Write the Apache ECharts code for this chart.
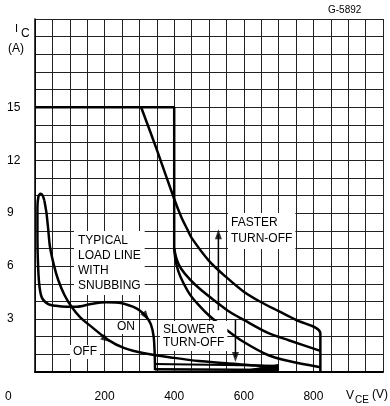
<!DOCTYPE html>
<html><head><meta charset="utf-8">
<script src="https://cdn.jsdelivr.net/npm/echarts@6/dist/echarts.min.js"></script>
<style>html,body{margin:0;padding:0;background:#fff}#c{width:390px;height:406px}</style>
</head><body><div id="c"></div>
<script>
const xTickLabels = [200, 400, 600, 800];
const yTickLabels = [3, 6, 9, 12, 15];

const soaLimit = [[0,15],[400,15],[400,7.0]];
const soaCurve = [[305,15],[350,12.6],[400,9.8],[420,8.8],[438,8.07],[450,7.6],[500,6.3],[548,5.4],[600,4.55],[650,3.95],[700,3.45],[750,2.95],[820,2.2],[820,0]];
const fastCurve = [[400,7.0],[407,6.4],[420,5.85],[445,5.25],[480,4.6],[519,4.0],[560,3.4],[600,2.95],[671,2.2],[729,1.8],[820,1.2]];
const slowCurve = [[400,7.0],[404,6.3],[412,5.7],[425,5.1],[445,4.4],[470,3.8],[500,3.2],[550,2.4],[600,1.7],[671,0.95],[729,0.62],[820,0.27]];

const loadOn = [[345,0.1],[344,1.0],[341,2.0],[333,2.7],[319,3.15],[300,3.5],[281,3.7],[250,3.9],[205,3.95],[160,3.85],[120,3.7],[90,3.7],[60,3.75],[38,3.85],[20,4.2],[12,5.0],[8,6.5],[7,8.0],[7,9.3],[10,9.95],[16,10.1],[22,10.0],[27,9.7]];
const loadOff = [[27,9.7],[33,9.0],[38,8.07],[43,7.1],[55,6.0],[67,5.2],[85,4.35],[105,3.7],[130,3.1],[162,2.57],[210,1.82],[257,1.35],[314,1.06],[400,0.8],[471,0.62],[550,0.5],[620,0.38],[700,0.28]];
const tailUpper = [[345,0.45],[700,0.35]];
const tailLower = [[345,0.15],[700,0.12]];
const tailWedge = [[590,0.05],[700,0.42]];

const fasterArrow = [[527,3.5],[527,7.8]];
const slowerArrow = [[576,2.95],[576,0.85]];
const fasterTip = [[527,7.8]];
const slowerTip = [[576,0.85]];
const onTip = [[319,3.15]];
const offTip = [[205,1.85]];

const black = '#000';
function curve(data, w, smooth) {
  return { type: 'line', data: data, showSymbol: false, symbol: 'none', smooth: smooth || 0,
    lineStyle: { color: black, width: w || 2.5 }, silent: true, animation: false };
}
function tip(data, rot) {
  return { type: 'scatter', data: data, symbol: 'triangle', symbolSize: [7, 10], symbolRotate: rot,
    itemStyle: { color: black }, silent: true, animation: false };
}

const chart = echarts.init(document.getElementById('c'), null, { renderer: 'canvas' });
const labelFont = 'Liberation Sans';
chart.setOption({
  backgroundColor: '#fff',
  animation: false,
  grid: { left: 35, right: 7, top: 19, bottom: 34 },
  xAxis: {
    type: 'value', min: 0, max: 1000, interval: 50,
    axisLine: { show: true, lineStyle: { color: black, width: 2 } },
    axisTick: { show: false },
    splitLine: { show: true, lineStyle: { color: '#222', width: 1 } },
    axisLabel: { interval: 0, margin: 19, color: black, fontSize: 12, fontFamily: labelFont,
      formatter: v => xTickLabels.includes(v) ? String(v) : '' }
  },
  yAxis: {
    type: 'value', min: 0, max: 20, interval: 1,
    axisLine: { show: true, lineStyle: { color: black, width: 1.5 } },
    axisTick: { show: false },
    splitLine: { show: true, lineStyle: { color: '#222', width: 1 } },
    axisLabel: { interval: 0, margin: 28, align: 'left', color: black, fontSize: 12, fontFamily: labelFont,
      formatter: v => yTickLabels.includes(v) ? String(v) : '' }
  },
  series: [
    curve(soaLimit, 2.5),
    curve(soaCurve, 2.5, 0.3),
    curve(fastCurve, 2.5, 0.3),
    curve(slowCurve, 2.5, 0.3),
    curve(loadOn, 2.5, 0.3),
    curve(loadOff, 2.5, 0.3),
    curve(tailUpper, 2),
    curve(tailLower, 2.5),
    Object.assign(curve(tailWedge, 1), { areaStyle: { color: black, opacity: 1 } }),
    curve(fasterArrow, 1.5),
    curve(slowerArrow, 1.5),
    tip(fasterTip, 0),
    tip(slowerTip, 180),
    tip(onTip, -145),
    tip(offTip, -123)
  ],
  graphic: [
    { type: 'text', left: 328, top: 5, style: { text: 'G-5892', font: '10px ' + labelFont, fill: black } },
    { type: 'text', left: 15, top: 23, style: { text: 'I', font: '11px ' + labelFont, fill: black } },
    { type: 'text', left: 21, top: 28, style: { text: 'C', font: '12px ' + labelFont, fill: black } },
    { type: 'text', left: 8, top: 43, style: { text: '(A)', font: '12px ' + labelFont, fill: black } },
    { type: 'text', left: 5, top: 391, style: { text: '0', font: '12px ' + labelFont, fill: black } },
    { type: 'text', left: 346, top: 390, style: { text: 'V', font: '12px ' + labelFont, fill: black } },
    { type: 'text', left: 355, top: 395, style: { text: 'CE', font: '10px ' + labelFont, fill: black } },
    { type: 'text', left: 372, top: 389, style: { text: '(V)', font: '12px ' + labelFont, fill: black } },
    { type: 'text', left: 74, top: 231, z: 100, style: { text: 'TYPICAL\nLOAD LINE\nWITH\nSNUBBING', font: '12px ' + labelFont, lineHeight: 15, fill: black, backgroundColor: '#fff', padding: [2, 4] } },
    { type: 'text', left: 228, top: 213, z: 100, style: { text: 'FASTER\nTURN-OFF', font: '12px ' + labelFont, lineHeight: 16, fill: black, backgroundColor: '#fff', padding: [2, 3] } },
    { type: 'text', left: 160, top: 321, z: 100, style: { text: 'SLOWER\nTURN-OFF', font: '12px ' + labelFont, lineHeight: 13, fill: black, backgroundColor: '#fff', padding: [2, 3] } },
    { type: 'text', left: 115, top: 320, z: 100, style: { text: 'ON', font: '12px ' + labelFont, fill: black, backgroundColor: '#fff', padding: [1, 2] } },
    { type: 'text', left: 70, top: 345, z: 100, style: { text: 'OFF', font: '12px ' + labelFont, fill: black, backgroundColor: '#fff', padding: [1, 3] } }
  ]
});
</script></body></html>
